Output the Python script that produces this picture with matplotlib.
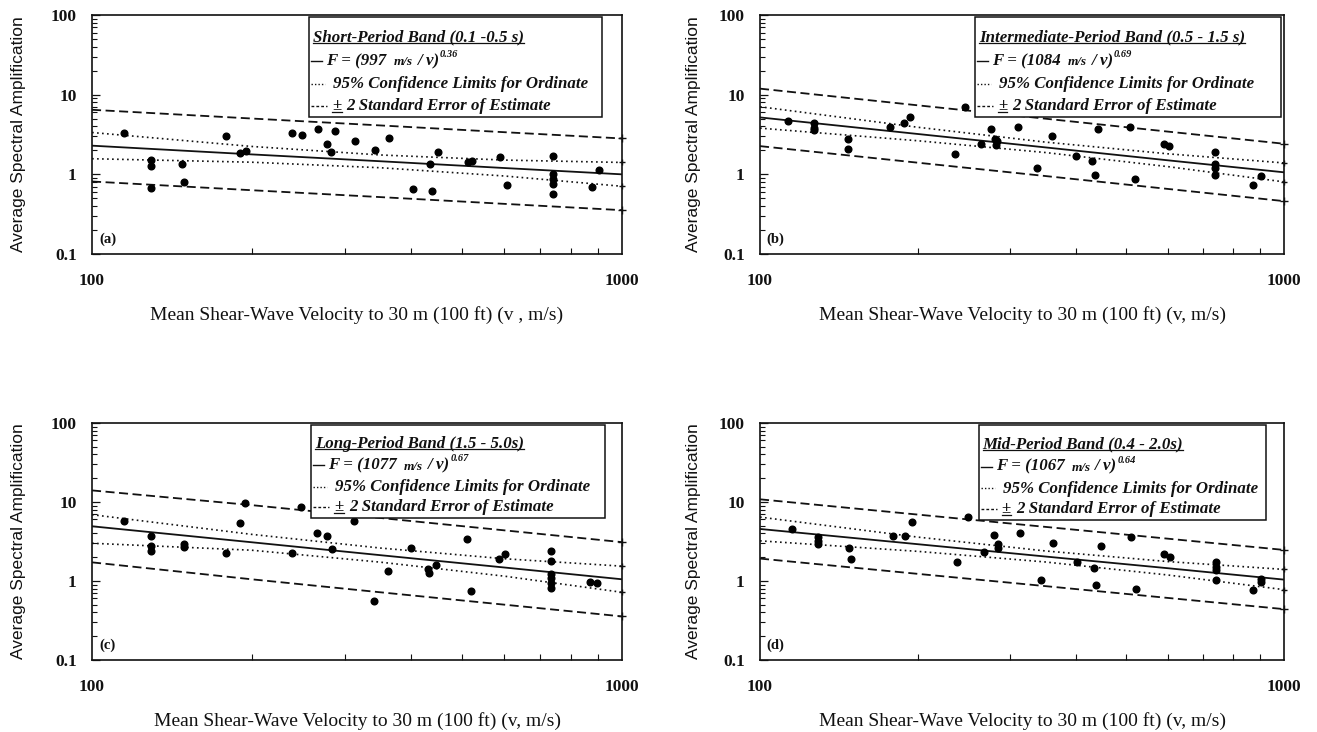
import numpy as np
import matplotlib
matplotlib.use('Agg')
import matplotlib.pyplot as plt
from matplotlib.patches import Rectangle
from matplotlib.ticker import FixedLocator, FixedFormatter, NullFormatter

SERIF = ['Liberation Serif', 'DejaVu Serif']
SANS = ['Liberation Sans', 'DejaVu Sans']

# ---- data ----
line_v = [100, 200, 350, 600, 1000]

v_a = [115, 129, 129, 129, 148, 149, 179, 190, 195, 238, 249, 267, 277, 283, 287, 313, 342,
       364, 403, 434, 438, 449, 513, 522, 589, 608, 740, 740, 740, 740, 740, 877, 905]
amp_a = [3.33, 1.51, 1.26, 0.68, 1.36, 0.79, 3.03, 1.84, 1.94, 3.33, 3.10, 3.73, 2.39, 1.90, 3.47,
         2.60, 2.05, 2.88, 0.66, 1.34, 0.61, 1.90, 1.44, 1.47, 1.64, 0.73, 1.68, 1.02, 0.87, 0.76,
         0.56, 0.70, 1.12]
fit_a = [2.29, 1.78, 1.46, 1.20, 1.00]
dash_hi_a = [6.46, 5.02, 4.11, 3.38, 2.82]
dash_lo_a = [0.813, 0.632, 0.518, 0.426, 0.355]
dot_hi_a = [3.35, 2.24, 1.75, 1.51, 1.41]
dot_lo_a = [1.57, 1.42, 1.21, 0.953, 0.708]

v_b = [113, 127, 127, 127, 147, 147, 177, 188, 193, 236, 246, 264, 276, 281, 283, 282, 310,
       338, 361, 400, 430, 435, 442, 508, 519, 589, 603, 739, 739, 739, 739, 873, 902]
amp_b = [4.69, 4.38, 3.85, 3.57, 2.76, 2.10, 3.93, 4.38, 5.27, 1.81, 6.94, 2.43, 3.71, 2.81, 2.60,
         2.36, 3.93, 1.19, 3.05, 1.69, 1.49, 0.98, 3.71, 3.96, 0.885, 2.40, 2.27, 1.90, 1.35, 1.19,
         0.99, 0.74, 0.94]
fit_b = [5.18, 3.21, 2.18, 1.50, 1.06]
dash_hi_b = [11.9, 7.35, 5.00, 3.44, 2.42]
dash_lo_b = [2.26, 1.40, 0.953, 0.656, 0.461]
dot_hi_b = [7.05, 3.90, 2.54, 1.81, 1.39]
dot_lo_b = [3.80, 2.64, 1.88, 1.25, 0.804]

v_c = [115, 129, 129, 129, 149, 149, 179, 190, 194, 238, 248, 266, 277, 284, 312, 340, 361,
       400, 430, 433, 445, 509, 519, 586, 602, 734, 734, 734, 734, 734, 734, 869, 898]
amp_c = [5.73, 3.72, 2.79, 2.42, 2.97, 2.68, 2.27, 5.45, 9.58, 2.27, 8.65, 4.04, 3.72, 2.52, 5.73,
         0.556, 1.33, 2.59, 1.40, 1.27, 1.60, 3.43, 0.757, 1.91, 2.18, 2.42, 1.81, 1.22, 1.08, 0.95,
         0.81, 0.98, 0.93]
fit_c = [4.92, 3.09, 2.12, 1.48, 1.05]
dash_hi_c = [14.0, 9.12, 6.27, 4.37, 3.10]
dash_lo_c = [1.72, 1.05, 0.719, 0.501, 0.356]
dot_hi_c = [6.9, 3.89, 2.61, 1.91, 1.54]
dot_lo_c = [3.0, 2.45, 1.73, 1.15, 0.719]

v_d = [115, 129, 129, 129, 148, 149, 179, 189, 195, 238, 249, 267, 279, 284, 285, 314, 343,
       362, 403, 433, 438, 447, 511, 521, 589, 606, 741, 741, 741, 741, 874, 905, 905]
amp_d = [4.56, 3.56, 3.17, 2.93, 2.60, 1.90, 3.67, 3.67, 5.61, 1.75, 6.50, 2.31, 3.85, 2.93, 2.60,
         4.01, 1.04, 3.05, 1.75, 1.44, 0.88, 2.79, 3.56, 0.78, 2.18, 2.04, 1.72, 1.51, 1.37, 1.02,
         0.76, 0.97, 1.05]
fit_d = [4.55, 2.92, 2.04, 1.45, 1.04]
dash_hi_d = [10.8, 6.92, 4.84, 3.43, 2.47]
dash_lo_d = [1.92, 1.23, 0.861, 0.610, 0.440]
dot_hi_d = [6.43, 3.59, 2.40, 1.76, 1.40]
dot_lo_d = [3.22, 2.37, 1.74, 1.19, 0.776]

band_titles = ['Short-Period Band (0.1 -0.5 s)', 'Intermediate-Period Band (0.5 - 1.5 s)',
               'Long-Period Band (1.5 - 5.0s)', 'Mid-Period Band (0.4 - 2.0s)']
fit_const = ['997', '1084', '1077', '1067']
fit_exp = ['0.36', '0.69', '0.67', '0.64']
letters = ['(a)', '(b)', '(c)', '(d)']
xlabels = ['Mean Shear-Wave Velocity to 30 m (100 ft) (v , m/s)',
           'Mean Shear-Wave Velocity to 30 m (100 ft) (v, m/s)',
           'Mean Shear-Wave Velocity to 30 m (100 ft) (v, m/s)',
           'Mean Shear-Wave Velocity to 30 m (100 ft) (v, m/s)']
ylabel = 'Average Spectral Amplification'
xtick_vals = [100, 1000]
xtick_text = ['100', '1000']
ytick_vals = [0.1, 1, 10, 100]
ytick_text = ['0.1', '1', '10', '100']

panels = [
    (v_a, amp_a, fit_a, dot_hi_a, dot_lo_a, dash_hi_a, dash_lo_a),
    (v_b, amp_b, fit_b, dot_hi_b, dot_lo_b, dash_hi_b, dash_lo_b),
    (v_c, amp_c, fit_c, dot_hi_c, dot_lo_c, dash_hi_c, dash_lo_c),
    (v_d, amp_d, fit_d, dot_hi_d, dot_lo_d, dash_hi_d, dash_lo_d),
]

# ---- layout ----
axes_pos = [[0.0699, 0.653, 0.4024, 0.3265],
            [0.5771, 0.653, 0.3979, 0.3265],
            [0.0699, 0.0984, 0.4024, 0.3238],
            [0.5771, 0.0984, 0.3979, 0.3238]]
legend_box = [(0.41, 0.573, 0.962, 0.99),
              (0.41, 0.573, 0.994, 0.99),
              (0.414, 0.60, 0.967, 0.99),
              (0.417, 0.59, 0.966, 0.99)]
ylabel_x = [-0.125, -0.113, -0.125, -0.113]

DOTTED = (0, (1, 2))
DASHED = (0, (5, 2.5))
INK = '#111111'
LEG_FS = 12.2

fig = plt.figure(figsize=(13.17, 7.32), dpi=100)
fig.patch.set_facecolor('white')
renderer = fig.canvas.get_renderer()


def text_run(ax, x, y, pieces):
    # place text pieces one after another, pieces: (text, size, rise, underline, gap_px)
    wpx = ax.bbox.width
    for s, size, rise, ul, gap in pieces:
        x += gap / wpx
        t = ax.text(x, y + rise, s, transform=ax.transAxes, fontsize=size, family=SERIF,
                    weight='bold', style='italic', va='baseline', ha='left', color=INK, zorder=8)
        bb = t.get_window_extent(renderer).transformed(ax.transAxes.inverted())
        if ul:
            ax.plot([bb.x0, bb.x1], [y - 0.008, y - 0.008], transform=ax.transAxes,
                    color=INK, lw=0.9, zorder=8, clip_on=False)
        x = bb.x1
    return x


for i, (v, amp, fit, dhi, dlo, shi, slo) in enumerate(panels):
    ax = fig.add_axes(axes_pos[i])
    ax.set_xscale('log')
    ax.set_yscale('log')
    ax.set_xlim(100, 1000)
    ax.set_ylim(0.1, 100)

    ax.plot(line_v, fit, color=INK, lw=1.3, zorder=2)
    for arr in (dhi, dlo):
        ax.plot(line_v, arr, color=INK, lw=1.2, ls=DOTTED, zorder=2)
        ax.plot(line_v[-1], arr[-1], '+', color=INK, ms=5, mew=1, zorder=2, clip_on=False)
    for arr in (shi, slo):
        ax.plot(line_v, arr, color=INK, lw=1.3, ls=DASHED, zorder=2)
        ax.plot(line_v[-1], arr[-1], '+', color=INK, ms=6, mew=1, zorder=2, clip_on=False)
    ax.plot(v, amp, 'o', color='black', ms=4.8, zorder=3)

    # ticks
    ax.xaxis.set_major_locator(FixedLocator(xtick_vals))
    ax.xaxis.set_major_formatter(FixedFormatter(xtick_text))
    ax.xaxis.set_minor_locator(FixedLocator([200, 300, 400, 500, 600, 700, 800, 900]))
    ax.xaxis.set_minor_formatter(NullFormatter())
    ax.yaxis.set_major_locator(FixedLocator(ytick_vals))
    ax.yaxis.set_major_formatter(FixedFormatter(ytick_text))
    ax.yaxis.set_minor_locator(FixedLocator([m * 10.0 ** e for e in (-1, 0, 1) for m in range(2, 10)]))
    ax.yaxis.set_minor_formatter(NullFormatter())
    ax.tick_params(which='both', direction='in', top=False, right=False, colors=INK)
    ax.tick_params(axis='x', which='major', length=0, pad=14)
    ax.tick_params(axis='x', which='minor', length=4, width=0.8)
    ax.tick_params(axis='y', which='major', length=6, width=0.9, pad=11)
    ax.tick_params(axis='y', which='minor', length=3.5, width=0.8)
    for lab in ax.get_xticklabels() + ax.get_yticklabels():
        lab.set_family(SERIF)
        lab.set_fontsize(12.5)
        lab.set_weight('bold')
    for sp in ax.spines.values():
        sp.set_linewidth(1.2)
        sp.set_color(INK)

    ax.set_xlabel(xlabels[i], family=SERIF, fontsize=14, labelpad=12, color=INK)
    ax.set_ylabel(ylabel, family=SANS, fontsize=12.5, color=INK)
    ax.yaxis.set_label_coords(ylabel_x[i], 0.5)

    ax.text(0.013, 0.045, letters[i], transform=ax.transAxes, family=SERIF, fontsize=10.5,
            weight='bold', color=INK)

    # legend box
    bx0, by0, bx1, by1 = legend_box[i]
    ax.add_patch(Rectangle((bx0, by0), bx1 - bx0, by1 - by0, transform=ax.transAxes,
                           facecolor='white', edgecolor=INK, lw=1.1, zorder=6))
    hb = by1 - by0
    base = [by1 - f * hb for f in (0.24, 0.48, 0.71, 0.93)]
    mid = [b + 0.018 for b in base]
    px = 1.0 / ax.bbox.width
    sx0 = bx0 + 2 * px

    text_run(ax, bx0, base[0], [(band_titles[i], LEG_FS, 0, True, 4)])

    ax.plot([sx0, sx0 + 11 * px], [mid[1]] * 2, transform=ax.transAxes, color=INK, lw=1, zorder=7)
    text_run(ax, bx0, base[1], [('F = (' + fit_const[i], LEG_FS, 0, False, 17),
                                ('m/s', 9.5, 0, False, 7),
                                ('/ v)', LEG_FS, 0, False, 4),
                                (fit_exp[i], 7.5, 0.035, False, 1)])

    ax.plot([sx0, sx0 + 14 * px], [mid[2]] * 2, transform=ax.transAxes, color=INK, lw=1,
            ls=(0, (1, 1.5)), zorder=7)
    text_run(ax, bx0, base[2], [('95% Confidence Limits for Ordinate', LEG_FS, 0, False, 24)])

    ax.plot([sx0, sx0 + 16 * px], [mid[3]] * 2, transform=ax.transAxes, color=INK, lw=1,
            ls=(0, (2, 1.5)), zorder=7)
    text_run(ax, bx0, base[3], [('\u00b1', LEG_FS, 0, True, 23),
                                ('2 Standard Error of Estimate', LEG_FS, 0, False, 5)])

fig.savefig('out.png', dpi=100)
